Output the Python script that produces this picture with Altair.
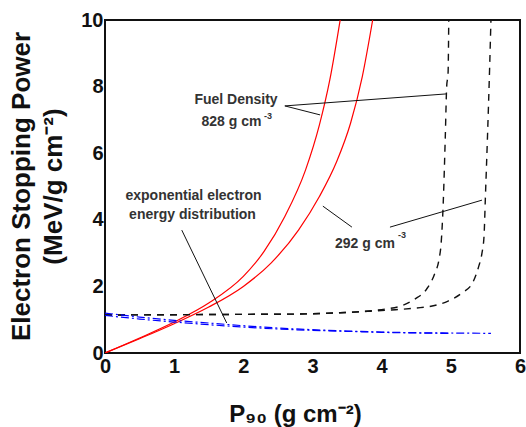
import altair as alt
import pandas as pd

# ---- data ----
red828_x = [0, 0.5, 1.0, 1.5, 2.0, 2.3, 2.6, 2.9, 3.1, 3.25, 3.40]
red828_y = [0, 0.45, 0.93, 1.50, 2.30, 3.05, 4.10, 5.50, 6.85, 8.20, 10.0]

red292_x = [0, 0.5, 1.0, 1.5, 2.0, 2.4, 2.8, 3.1, 3.35, 3.55, 3.72, 3.87]
red292_y = [0, 0.43, 0.88, 1.38, 2.00, 2.70, 3.70, 4.70, 5.75, 6.90, 8.30, 10.0]

dash828_x = [0, 1, 2, 2.8, 3.4, 3.8, 4.05, 4.29, 4.48, 4.65, 4.77, 4.83, 4.86, 4.89, 4.92, 4.94, 4.96, 4.97]
dash828_y = [1.14, 1.15, 1.16, 1.17, 1.21, 1.26, 1.32, 1.42, 1.62, 1.92, 2.40, 2.82, 3.30, 4.50, 6.50, 8.00, 8.40, 10.0]

dash292_x = [0, 1, 2, 2.8, 3.4, 3.8, 4.2, 4.5, 4.73, 4.96, 5.16, 5.32, 5.40, 5.45, 5.48, 5.50, 5.53, 5.56, 5.58]
dash292_y = [1.14, 1.15, 1.16, 1.17, 1.21, 1.25, 1.30, 1.35, 1.41, 1.56, 1.80, 2.13, 2.58, 3.00, 3.51, 4.70, 6.50, 8.50, 10.0]

blueA_x = [0, 0.5, 1.0, 1.5, 2.0, 2.5, 3.0, 3.5, 4.0, 4.5, 5.0, 5.58]
blueA_y = [1.20, 1.08, 0.98, 0.90, 0.82, 0.75, 0.70, 0.66, 0.63, 0.61, 0.60, 0.59]
blueB_x = [0, 0.5, 1.0, 1.5, 2.0, 2.5, 3.0, 3.5, 4.0, 4.5, 4.97]
blueB_y = [1.13, 1.02, 0.93, 0.85, 0.78, 0.72, 0.68, 0.65, 0.62, 0.60, 0.59]

x_ticks = [0, 1, 2, 3, 4, 5, 6]
y_ticks = [0, 2, 4, 6, 8, 10]

# annotation texts (data coordinates)
ann_label = ["Fuel Density", "828 g cm", "-3", "292 g cm", "-3", "exponential electron", "energy distribution"]
ann_x = [1.894, 1.829, 2.357, 3.759, 4.294, 1.28, 1.265]
ann_y = [7.60, 6.94, 7.12, 3.27, 3.54, 4.71, 4.14]
ann_fs = [14, 14, 9, 14, 9, 14, 14]

# leader lines
lead_x = [2.60, 2.60, 3.15, 4.12, 1.11]
lead_y = [7.42, 7.42, 4.41, 3.78, 3.69]
lead_x2 = [4.93, 3.11, 3.57, 5.45, 1.76]
lead_y2 = [7.78, 7.15, 3.78, 4.59, 0.90]


def frame(xs, ys, name):
    return pd.DataFrame({"x": xs, "y": ys, "s": name, "o": range(len(xs))})


red = pd.concat([frame(red828_x, red828_y, "r828"), frame(red292_x, red292_y, "r292")])
dash = pd.concat([frame(dash828_x, dash828_y, "d828"), frame(dash292_x, dash292_y, "d292")])
blue = pd.concat([frame(blueA_x, blueA_y, "bA"), frame(blueB_x, blueB_y, "bB")])
ann = pd.DataFrame({"x": ann_x, "y": ann_y, "t": ann_label, "fs": ann_fs})
lead = pd.DataFrame({"x": lead_x, "y": lead_y, "x2": lead_x2, "y2": lead_y2})

FONT = "Liberation Sans"

xs = alt.Scale(domain=[0, 6], nice=False, zero=False)
ys = alt.Scale(domain=[0, 10], nice=False, zero=False)

xaxis = alt.Axis(values=x_ticks, format="d", grid=False, ticks=False, domain=False,
                 labelFont=FONT, labelFontSize=20, labelFontWeight="bold", labelColor="#111",
                 labelPadding=3, labelFlush=False,
                 title="P\u2089\u2080 (g cm\u207b\u00b2)", titleFont=FONT, titleFontSize=24,
                 titleFontWeight="bold", titleColor="#111", titleX=190, titleY=68,
                 titleBaseline="alphabetic")
yaxis = alt.Axis(values=y_ticks, format="d", grid=False, ticks=False, domain=False,
                 labelFont=FONT, labelFontSize=20, labelFontWeight="bold", labelColor="#111",
                 labelPadding=2, labelFlush=False,
                 title=["Electron Stopping Power", "(MeV/g cm\u207b\u00b2)"], titleFont=FONT,
                 titleFontSize=26, titleFontWeight="bold", titleColor="#111",
                 titleAngle=270, titleX=-84, titleY=166, titleBaseline="middle",
                 titleAlign="center", titleLineHeight=32)

base_x = alt.X("x:Q", scale=xs, axis=xaxis)
base_y = alt.Y("y:Q", scale=ys, axis=yaxis)

red_l = alt.Chart(red).mark_line(color="#ff0000", strokeWidth=1.2, interpolate="monotone", clip=True).encode(
    x=base_x, y=base_y, detail="s:N", order="o:Q")
dash_l = alt.Chart(dash).mark_line(color="#111", strokeWidth=1.4, strokeDash=[7, 6],
                                   interpolate="monotone", clip=True).encode(
    x="x:Q", y="y:Q", detail="s:N", order="o:Q")
blue_l = alt.Chart(blue).mark_line(color="#0000ff", strokeWidth=1.2, strokeDash=[8, 3, 2, 3],
                                   interpolate="monotone", clip=True).encode(
    x="x:Q", y="y:Q", detail="s:N", order="o:Q")
lead_l = alt.Chart(lead).mark_rule(color="#111", strokeWidth=1).encode(
    x="x:Q", y="y:Q", x2="x2:Q", y2="y2:Q")
text_l = alt.Chart(ann).mark_text(font=FONT, fontWeight="bold", color="#333",
                                  align="center", baseline="middle").encode(
    x="x:Q", y="y:Q", text="t:N", size=alt.Size("fs:Q", scale=None, legend=None))

chart = alt.layer(red_l, dash_l, blue_l, lead_l, text_l).properties(
    width=415, height=333,
    autosize=alt.AutoSizeParams(type="none"),
    padding={"left": 105, "top": 20, "right": 6, "bottom": 74},
    background="white",
).configure_view(stroke="#111", strokeWidth=2)

chart.save("out.html", embed_options={"renderer": "svg", "actions": False})
